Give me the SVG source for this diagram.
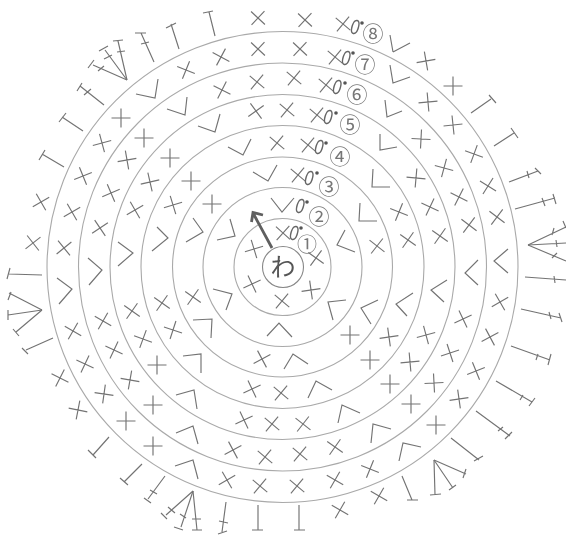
<svg xmlns="http://www.w3.org/2000/svg" width="566" height="535" viewBox="0 0 566 535">
<style>
.r{fill:none;stroke:#a9a9a9;stroke-width:1.1}
.s{fill:none;stroke:#737373;stroke-width:1.15}
.n{font-family:"Noto Sans CJK JP","DejaVu Sans",sans-serif;fill:#777;text-anchor:middle}
.o{font-family:"Liberation Sans",sans-serif;font-style:italic;font-size:19px;fill:#666;text-anchor:middle}
.d{fill:#555}
</style>
<defs>
<path id="x" class="s" d="M-9.5 0H9.5M0 -9.5V9.5"/>
<filter id="b" x="-2%" y="-2%" width="104%" height="104%"><feGaussianBlur stdDeviation="0.3"/></filter>
</defs>
<rect width="566" height="535" fill="#fff"/>
<g id="rings" filter="url(#b)">
<circle class="r" cx="282.5" cy="267" r="235.5"/>
<circle class="r" cx="282.5" cy="267" r="204"/>
<circle class="r" cx="282.5" cy="267" r="172.5"/>
<circle class="r" cx="282.5" cy="267" r="141.5"/>
<circle class="r" cx="282.5" cy="267" r="110"/>
<circle class="r" cx="282.5" cy="267" r="79.5"/>
<circle class="r" cx="282.5" cy="267" r="48.5"/>
<circle class="r" cx="283" cy="267" r="20.5" style="stroke:#888"/>
</g>
<g id="crosses" filter="url(#b)">
<use href="#x" transform="translate(258 18) rotate(43)"/>
<use href="#x" transform="translate(258 49) rotate(43)"/>
<use href="#x" transform="translate(257 82) rotate(40)"/>
<use href="#x" transform="translate(256 111) rotate(54)"/>
<use href="#x" transform="translate(277 143) rotate(40)"/>
<use href="#x" transform="translate(221 57) rotate(28)"/>
<use href="#x" transform="translate(186 70) rotate(22)"/>
<use href="#x" transform="translate(222 90) rotate(27)"/>
<use href="#x" transform="translate(121 118)"/>
<use href="#x" transform="translate(144 138)"/>
<use href="#x" transform="translate(102 143) rotate(-15)"/>
<use href="#x" transform="translate(127 160) rotate(-10)"/>
<use href="#x" transform="translate(170 158)"/>
<use href="#x" transform="translate(83 176) rotate(-22)"/>
<use href="#x" transform="translate(111 193) rotate(-23)"/>
<use href="#x" transform="translate(150 182) rotate(-13)"/>
<use href="#x" transform="translate(191 181)"/>
<use href="#x" transform="translate(72 212) rotate(-30)"/>
<use href="#x" transform="translate(135 210) rotate(-30)"/>
<use href="#x" transform="translate(173 205) rotate(-17)"/>
<use href="#x" transform="translate(212 204)"/>
<use href="#x" transform="translate(100 228) rotate(-34)"/>
<use href="#x" transform="translate(64 248) rotate(-39)"/>
<use href="#x" transform="translate(33 243) rotate(-38)"/>
<use href="#x" transform="translate(41 202) rotate(-30)"/>
<use href="#x" transform="translate(254 249) rotate(-17)"/>
<use href="#x" transform="translate(305 20) rotate(43)"/>
<use href="#x" transform="translate(300 49) rotate(43)"/>
<use href="#x" transform="translate(294 78) rotate(40)"/>
<use href="#x" transform="translate(287 110) rotate(40)"/>
<use href="#x" transform="translate(426 61) rotate(-10)"/>
<use href="#x" transform="translate(453 86)"/>
<use href="#x" transform="translate(488 186) rotate(32)"/>
<use href="#x" transform="translate(474 154) rotate(20)"/>
<use href="#x" transform="translate(453 125) rotate(-6)"/>
<use href="#x" transform="translate(428 102) rotate(-5)"/>
<use href="#x" transform="translate(421 139) rotate(3)"/>
<use href="#x" transform="translate(444 168) rotate(15)"/>
<use href="#x" transform="translate(459 197) rotate(27)"/>
<use href="#x" transform="translate(416 178) rotate(5)"/>
<use href="#x" transform="translate(430 207) rotate(25)"/>
<use href="#x" transform="translate(399 212) rotate(22)"/>
<use href="#x" transform="translate(469 225) rotate(37)"/>
<use href="#x" transform="translate(497 217) rotate(37)"/>
<use href="#x" transform="translate(408 240) rotate(35)"/>
<use href="#x" transform="translate(440 236) rotate(35)"/>
<use href="#x" transform="translate(377 246) rotate(38)"/>
<use href="#x" transform="translate(316 258) rotate(36)"/>
<use href="#x" transform="translate(500 302) rotate(-30)"/>
<use href="#x" transform="translate(490 337) rotate(-28)"/>
<use href="#x" transform="translate(476 371) rotate(-22)"/>
<use href="#x" transform="translate(459 399) rotate(-8)"/>
<use href="#x" transform="translate(436 425)"/>
<use href="#x" transform="translate(370 469) rotate(22)"/>
<use href="#x" transform="translate(335 480) rotate(30)"/>
<use href="#x" transform="translate(297 486) rotate(40)"/>
<use href="#x" transform="translate(463 319) rotate(-25)"/>
<use href="#x" transform="translate(450 353) rotate(-18)"/>
<use href="#x" transform="translate(434 383) rotate(-3)"/>
<use href="#x" transform="translate(411 404)"/>
<use href="#x" transform="translate(335 447) rotate(35)"/>
<use href="#x" transform="translate(300 454) rotate(40)"/>
<use href="#x" transform="translate(426 335) rotate(-15)"/>
<use href="#x" transform="translate(410 362) rotate(-5)"/>
<use href="#x" transform="translate(390 384)"/>
<use href="#x" transform="translate(303 424) rotate(38)"/>
<use href="#x" transform="translate(389 337) rotate(-8)"/>
<use href="#x" transform="translate(370 360)"/>
<use href="#x" transform="translate(350 335)"/>
<use href="#x" transform="translate(379 496) rotate(30)"/>
<use href="#x" transform="translate(340 510) rotate(30)"/>
<use href="#x" transform="translate(78 410) rotate(11)"/>
<use href="#x" transform="translate(60 378) rotate(27)"/>
<use href="#x" transform="translate(262 359) rotate(-28)"/>
<use href="#x" transform="translate(252 389) rotate(-25)"/>
<use href="#x" transform="translate(281 393) rotate(40)"/>
<use href="#x" transform="translate(244 420) rotate(-25)"/>
<use href="#x" transform="translate(272 424) rotate(40)"/>
<use href="#x" transform="translate(233 450) rotate(-28)"/>
<use href="#x" transform="translate(265 457) rotate(40)"/>
<use href="#x" transform="translate(227 480) rotate(-30)"/>
<use href="#x" transform="translate(260 486) rotate(40)"/>
<use href="#x" transform="translate(153 446)"/>
<use href="#x" transform="translate(126 421)"/>
<use href="#x" transform="translate(104 394) rotate(8)"/>
<use href="#x" transform="translate(85 364) rotate(25)"/>
<use href="#x" transform="translate(73 331) rotate(30)"/>
<use href="#x" transform="translate(153 405)"/>
<use href="#x" transform="translate(130 380) rotate(10)"/>
<use href="#x" transform="translate(114 350) rotate(25)"/>
<use href="#x" transform="translate(103 321) rotate(30)"/>
<use href="#x" transform="translate(157 365)"/>
<use href="#x" transform="translate(143 339) rotate(20)"/>
<use href="#x" transform="translate(132 311) rotate(35)"/>
<use href="#x" transform="translate(173 330) rotate(18)"/>
<use href="#x" transform="translate(162 303) rotate(35)"/>
<use href="#x" transform="translate(193 297) rotate(35)"/>
<use href="#x" transform="translate(252 284) rotate(-25)"/>
<use href="#x" transform="translate(282 301) rotate(40)"/>
<use href="#x" transform="translate(311 290) rotate(-8)"/>
<use href="#x" transform="translate(343 24) rotate(40)"/>
<use href="#x" transform="translate(335 57) rotate(40)"/>
<use href="#x" transform="translate(326 85) rotate(40)"/>
<use href="#x" transform="translate(317 115) rotate(40)"/>
<use href="#x" transform="translate(308 145) rotate(40)"/>
<use href="#x" transform="translate(298 175) rotate(40)"/>
<use href="#x" transform="translate(283 233) rotate(42)"/>
</g>
<g id="chevrons" class="s" filter="url(#b)">
<path d="M271 198L282 212L294 198"/>
<path d="M390 65L393 83L410 77"/>
<path d="M385 100L387 117L402 111"/>
<path d="M380 134L380 150L397 147"/>
<path d="M373 169L372 187L390 187"/>
<path d="M360 203L359 221L377 221"/>
<path d="M345 230L337 245L355 252"/>
<path d="M508 249L494 261L508 273"/>
<path d="M478 260L465 273L478 285"/>
<path d="M421 447L403 443L399 461"/>
<path d="M391 429L373 424L371 443"/>
<path d="M360 413L342 405L338 423"/>
<path d="M332 390L316 381L308 398"/>
<path d="M308 364L293 354L284 369"/>
<path d="M346 300L328 302L333 320"/>
<path d="M378 300L361 308L371 324"/>
<path d="M413 293L396 304L407 316"/>
<path d="M447 280L431 290L444 302"/>
<path d="M57 278L72 289L59 304"/>
<path d="M88 258L102 270L89 285"/>
<path d="M118 242L133 253L118 266"/>
<path d="M157 227L168 238L152 251"/>
<path d="M193 218L203 232L186 242"/>
<path d="M230 219L235 236L217 240"/>
<path d="M158 79L155 98L136 94"/>
<path d="M187 97L185 115L167 109"/>
<path d="M220 114L215 132L198 126"/>
<path d="M251 139L243 155L228 147"/>
<path d="M277 165L268 181L253 172"/>
<path d="M175 466L193 460L198 479"/>
<path d="M176 433L193 426L198 444"/>
<path d="M176 395L194 390L197 409"/>
<path d="M183 356L201 354L201 373"/>
<path d="M193 320L212 319L211 338"/>
<path d="M213 289L232 294L226 310"/>
<path d="M267 336L279 323L292 337"/>
<path d="M393 52L390 35M393 52L410 43"/>
</g>
<g id="tall-stitches" class="s" filter="url(#b)">
<path d="M215 36L209 12M203 13L213 11"/>
<path d="M179 49L171 24M166 28L176 23"/>
<path d="M154 62L141 33M135 33L146 33M141 44L149 42"/>
<path d="M127 80L118 41M113 41L123 40M117 52L125 51"/>
<path d="M127 80L105 50M99 51L108 46M104 59L112 55"/>
<path d="M127 80L93 65M88 68L94 60M98 71L104 66"/>
<path d="M104 105L80 86M77 91L82 83M84 95L91 89"/>
<path d="M83 131L62 117M59 122L66 113"/>
<path d="M64 167L42 154M39 160L45 150"/>
<path d="M471 113L491 99M489 95L496 103"/>
<path d="M494 146L514 133M511 128L518 138"/>
<path d="M509 182L538 171M535 168L541 174M527 171L529 178"/>
<path d="M515 209L555 198M553 194L556 204M542 198L545 206"/>
<path d="M528 245L566 227M563 221L566 228M552 235L554 228"/>
<path d="M528 245L566 243M556 240L557 247"/>
<path d="M528 245L566 261M552 258L557 253"/>
<path d="M525 277L566 280M554 276L555 283"/>
<path d="M521 309L561 318M559 313L562 322M549 312L551 319"/>
<path d="M511 346L550 360M551 354L548 365M538 354L536 360"/>
<path d="M496 381L532 402M535 398L529 406M523 395L520 400"/>
<path d="M476 411L510 436M512 432L505 439M503 427L498 431"/>
<path d="M451 438L479 460M483 456L474 461"/>
<path d="M434 460L466 474M466 469L463 478"/>
<path d="M434 460L453 488M456 485L449 490"/>
<path d="M434 460L435 495M430 495L441 494"/>
<path d="M402 476L412 500M407 500L418 500"/>
<path d="M299 505L299 530M294 530L305 530"/>
<path d="M258 505L258 530M252 530L263 530"/>
<path d="M226 502L222 532M219 521L228 523M218 534L227 531"/>
<path d="M193 491L197 530M192 530L202 530M192 519L201 519"/>
<path d="M193 491L181 527M174 527L183 530M180 514L186 518"/>
<path d="M193 491L166 515M161 513L167 519M168 507L175 513"/>
<path d="M165 476L148 499M144 498L151 503M150 490L157 494"/>
<path d="M142 464L124 482M120 478L128 485"/>
<path d="M109 437L93 455M88 450L96 458"/>
<path d="M53 338L26 350M22 348L28 354"/>
<path d="M42 310L9 293M8 300L11 292"/>
<path d="M42 310L8 315M8 310L8 320"/>
<path d="M42 310L16 332M13 329L19 336"/>
<path d="M42 275L9 274M10 268L7 279"/>
</g>
<g id="arrow" fill="none" stroke="#5f5f5f" stroke-width="2.8">
<path d="M272 248L253 213M251.500 222L253 212.500L263 215"/>
</g>
<g id="center">
<text class="n" x="283" y="276" font-size="25" style="fill:#555">わ</text>
</g>
<g id="round-labels">
<g id="round-8"><text class="o" transform="translate(354 34) rotate(8) scale(.85 1.1)">0</text><circle class="d" cx="362" cy="23" r="1.8"/><text class="n" x="373" y="41" font-size="21">⑧</text></g>
<g id="round-7"><text class="o" transform="translate(345 65) rotate(8) scale(.85 1.1)">0</text><circle class="d" cx="353" cy="53" r="1.8"/><text class="n" x="365" y="72" font-size="21">⑦</text></g>
<g id="round-6"><text class="o" transform="translate(336 94) rotate(8) scale(.85 1.1)">0</text><circle class="d" cx="345" cy="83" r="1.8"/><text class="n" x="357" y="102" font-size="21">⑥</text></g>
<g id="round-5"><text class="o" transform="translate(327 124) rotate(8) scale(.85 1.1)">0</text><circle class="d" cx="336" cy="113" r="1.8"/><text class="n" x="350" y="132" font-size="21">⑤</text></g>
<g id="round-4"><text class="o" transform="translate(318 154) rotate(8) scale(.85 1.1)">0</text><circle class="d" cx="326" cy="143" r="1.8"/><text class="n" x="340" y="164" font-size="21">④</text></g>
<g id="round-3"><text class="o" transform="translate(308 185) rotate(8) scale(.85 1.1)">0</text><circle class="d" cx="317" cy="173" r="1.8"/><text class="n" x="329" y="194" font-size="21">③</text></g>
<g id="round-2"><text class="o" transform="translate(299 213) rotate(8) scale(.85 1.1)">0</text><circle class="d" cx="307" cy="202" r="1.8"/><text class="n" x="319" y="224" font-size="21">②</text></g>
<g id="round-1"><text class="o" transform="translate(293 240) rotate(8) scale(.85 1.1)">0</text><circle class="d" cx="301" cy="228" r="1.8"/><text class="n" x="307" y="252" font-size="20">①</text></g>
</g>
</svg>
